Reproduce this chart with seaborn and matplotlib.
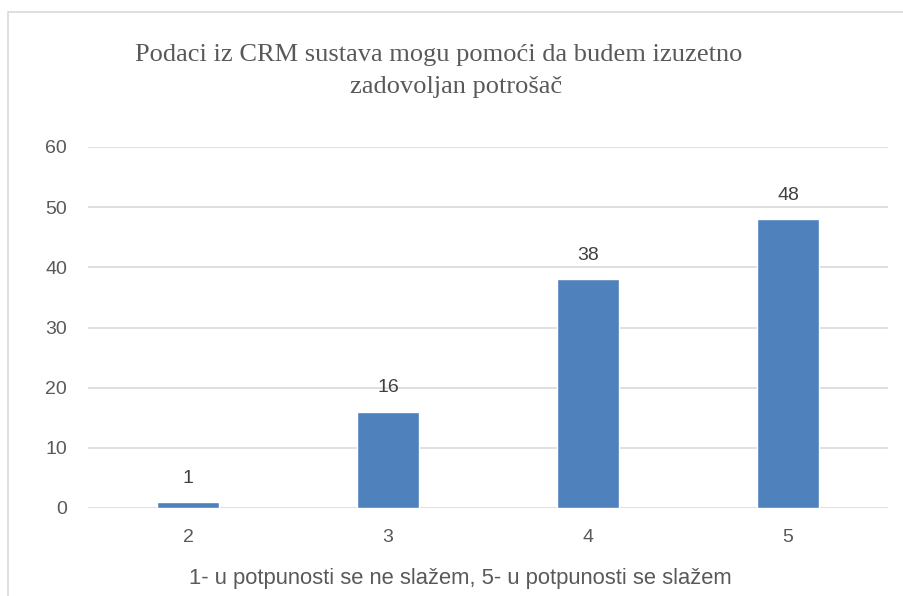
import matplotlib
matplotlib.use("Agg")
import matplotlib.pyplot as plt
import seaborn as sns
import pandas as pd
from matplotlib.patches import Rectangle

# Survey answers (Likert scale) and number of respondents
categories = ["2", "3", "4", "5"]
counts = [1, 16, 38, 48]
y_ticks = [0, 10, 20, 30, 40, 50, 60]

title_lines = ["Podaci iz CRM sustava mogu pomoći da budem izuzetno",
               "zadovoljan potrošač"]
x_label = "1- u potpunosti se ne slažem, 5- u potpunosti se slažem"

df = pd.DataFrame({"odgovor": categories, "broj": counts})

sns.set_theme(style="white")
plt.rcParams["font.family"] = ["Liberation Sans", "DejaVu Sans"]

W, H = 904, 596
fig = plt.figure(figsize=(W / 100, H / 100), dpi=100)
fig.patch.set_facecolor("white")

# light frame around the chart area
fig.patches.append(Rectangle((8 / W, -0.1), 1.2, (H - 12) / H + 0.1,
                             transform=fig.transFigure, fill=False,
                             edgecolor="#D9D9D9", linewidth=1.2))

ax = fig.add_axes([88 / W, (H - 508) / H, 800 / W, 361 / H])
sns.barplot(data=df, x="odgovor", y="broj", color="#4F81BD",
            saturation=1, width=0.31, ax=ax, zorder=3)

ax.set_ylim(0, 60)
ax.set_xlim(-0.5, 3.5)
ax.set_yticks(y_ticks)
ax.grid(axis="y", color="#D9D9D9", linewidth=1.2, zorder=0)
ax.set_axisbelow(True)
for s in ax.spines.values():
    s.set_visible(False)

ax.tick_params(axis="y", length=0, pad=15, labelsize=14, labelcolor="#595959")
ax.tick_params(axis="x", length=0, pad=15, labelsize=14, labelcolor="#595959")
ax.set_ylabel("")
ax.set_xlabel(x_label, fontsize=15.8, color="#595959", labelpad=15)
ax.xaxis.set_label_coords(0.466, -0.165)

for i, v in enumerate(counts):
    ax.annotate(str(v), (i, v), xytext=(0, 11), textcoords="offset points",
                ha="center", va="bottom", fontsize=14, color="#404040")

fig.text(439 / W, 1 - 55 / H, title_lines[0], ha="center", va="center",
         fontsize=19, color="#595959", family="Liberation Serif")
fig.text(456 / W, 1 - 87 / H, title_lines[1], ha="center", va="center",
         fontsize=19, color="#595959", family="Liberation Serif")

fig.savefig("out.png", dpi=100, facecolor="white")
